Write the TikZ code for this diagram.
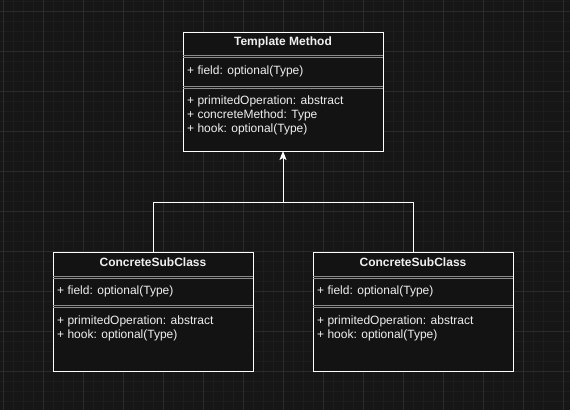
\documentclass[tikz,border=0pt]{standalone}
\usepackage{fontspec}
\setmainfont{Liberation Sans}
\usetikzlibrary{arrows.meta}
\definecolor{bgc}{HTML}{161616}
\definecolor{minorc}{HTML}{1D1D1D}
\definecolor{majorc}{HTML}{2B2B2B}
\definecolor{boxc}{HTML}{131313}
\definecolor{sepc}{HTML}{8A8A8A}
\definecolor{txtc}{HTML}{F0F0F0}
\tikzset{
  classbox/.style={draw=white, fill=boxc, line width=1pt, minimum width=200pt, inner sep=0pt, outer sep=0pt, rectangle},
  title/.style={text=txtc, font=\fontsize{12}{14}\selectfont\bfseries, inner sep=0pt, anchor=center},
  member/.style={text=txtc, font=\fontsize{12}{14}\selectfont, inner sep=0pt, anchor=west},
  sepline/.style={draw=sepc, line width=0.8pt},
  conn/.style={draw=white, line width=1pt},
}
\begin{document}
\begin{tikzpicture}[x=1pt,y=-1pt]
\fill[bgc] (0,0) rectangle (570,410);
\useasboundingbox (0,0) rectangle (570,410);
% grid
\foreach \i in {0,...,57} {\draw[minorc, line width=0.6pt] (3+\i*10-30,0) -- (3+\i*10-30,410);}
\foreach \i in {0,...,41} {\draw[minorc, line width=0.6pt] (0,1+\i*10) -- (570,1+\i*10);}
\foreach \i in {0,...,14} {\draw[majorc, line width=0.8pt] (3+\i*40,0) -- (3+\i*40,410);}
\foreach \i in {0,...,10} {\draw[majorc, line width=0.8pt] (0,11+\i*40) -- (570,11+\i*40);}

% Template Method box
\node[classbox, minimum height=119pt] (tm) at (283,91.5) {};
\node[title] (tmt) at (283,42.5) {Template Method};
\draw[sepline] (183,55.5) -- (383,55.5);
\draw[sepline] (183,57.5) -- (383,57.5);
\node[member] (tmf) at (187,71.5) {+ field: optional(Type)};
\draw[sepline] (183,86.5) -- (383,86.5);
\draw[sepline] (183,88.5) -- (383,88.5);
\node[member] (tmm1) at (187,101.5) {+ primitedOperation: abstract};
\node[member] (tmm2) at (187,115.5) {+ concreteMethod: Type};
\node[member] (tmm3) at (187,129.5) {+ hook: optional(Type)};

% Left subclass
\node[classbox, minimum height=119pt] (cl) at (153,311.5) {};
\node[title] (clt) at (153,262.5) {ConcreteSubClass};
\draw[sepline] (53,276) -- (253,276);
\draw[sepline] (53,278) -- (253,278);
\node[member] (clf) at (57,291.5) {+ field: optional(Type)};
\draw[sepline] (53,305.5) -- (253,305.5);
\draw[sepline] (53,307.5) -- (253,307.5);
\node[member] (clm1) at (57,321.5) {+ primitedOperation: abstract};
\node[member] (clm2) at (57,335.5) {+ hook: optional(Type)};

% Right subclass
\node[classbox, minimum height=119pt] (cr) at (413,311.5) {};
\node[title] (crt) at (413,262.5) {ConcreteSubClass};
\draw[sepline] (313,276) -- (513,276);
\draw[sepline] (313,278) -- (513,278);
\node[member] (crf) at (317,291.5) {+ field: optional(Type)};
\draw[sepline] (313,305.5) -- (513,305.5);
\draw[sepline] (313,307.5) -- (513,307.5);
\node[member] (crm1) at (317,321.5) {+ primitedOperation: abstract};
\node[member] (crm2) at (317,335.5) {+ hook: optional(Type)};

% connectors
\coordinate (j) at (283,202);
\draw[conn] (cl.north) |- (j);
\draw[conn] (cr.north) |- (j);
\draw[conn, -{Stealth[length=9pt,width=7pt,inset=2pt]}] (j) -- (tm.south);
\end{tikzpicture}
\end{document}
